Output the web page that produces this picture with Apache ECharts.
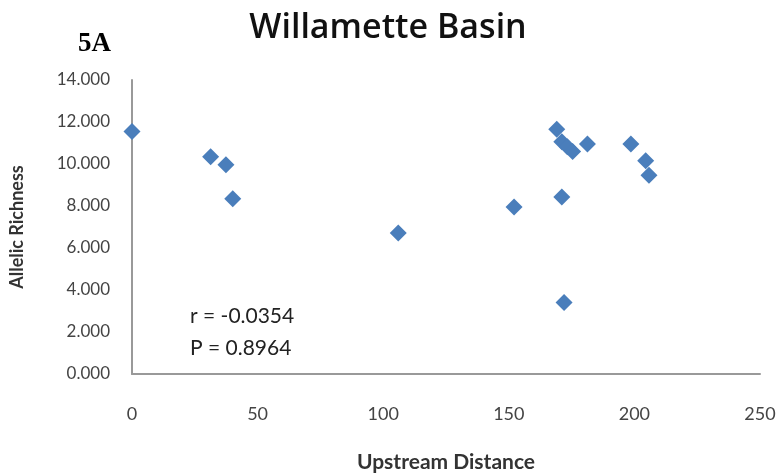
<!DOCTYPE html>
<html>
<head>
<meta charset="utf-8">
<script src="https://cdn.jsdelivr.net/npm/echarts@6/dist/echarts.min.js"></script>
<style>
html,body{margin:0;padding:0;background:#fff;}
#chart{width:776px;height:475px;}
</style>
</head>
<body>
<div id="chart"></div>
<script>
// Upstream distance (x) and allelic richness (y)
var upstreamDistance = [0, 31.3, 37.4, 40.1, 106.0, 152.1, 169.1, 171.1, 173.3, 175.4, 181.3, 198.6, 204.5, 205.8, 171.1, 172.0];
var allelicRichness  = [11.55, 10.35, 9.97, 8.35, 6.72, 7.95, 11.65, 11.06, 10.82, 10.6, 10.95, 10.95, 10.15, 9.47, 8.43, 3.4];
var xTicks = [0, 50, 100, 150, 200, 250];
var yTicks = [0, 2, 4, 6, 8, 10, 12, 14];
var titleText = 'Willamette Basin';
var panelLabel = '5A';
var statsLines = ['r = -0.0354', 'P = 0.8964'];

var points = upstreamDistance.map(function (x, i) { return [x, allelicRichness[i]]; });
var fontFam = 'Lato, "Open Sans", sans-serif';

var chart = echarts.init(document.getElementById('chart'), null, {renderer: 'canvas'});
chart.setOption({
  animation: false,
  backgroundColor: '#ffffff',
  title: {
    text: titleText,
    left: 'center',
    top: 6,
    textStyle: {fontFamily: '"Open Sans", sans-serif', fontSize: 34, fontWeight: 600, color: '#111'}
  },
  graphic: [
    {type: 'text', left: 78, top: 31, style: {text: panelLabel, font: 'bold 27px "Liberation Serif", serif', fill: '#000'}},
    {type: 'text', left: 190, top: 306, style: {text: statsLines[0], font: '21px ' + fontFam, fill: '#222'}},
    {type: 'text', left: 190, top: 338, style: {text: statsLines[1], font: '21px ' + fontFam, fill: '#222'}}
  ],
  grid: {left: 132, right: 16, top: 80, bottom: 101, containLabel: false, outerBoundsMode: 'none'},
  xAxis: {
    type: 'value',
    min: xTicks[0], max: xTicks[xTicks.length - 1], interval: 50,
    name: 'Upstream Distance',
    nameLocation: 'middle',
    nameGap: 78,
    nameTextStyle: {fontFamily: fontFam, fontSize: 21, fontWeight: 'bold', color: '#333'},
    axisLine: {show: true, lineStyle: {color: '#999999', width: 2}},
    axisTick: {show: false},
    splitLine: {show: false},
    axisLabel: {fontFamily: fontFam, fontSize: 18, color: '#444', margin: 31}
  },
  yAxis: {
    type: 'value',
    min: yTicks[0], max: yTicks[yTicks.length - 1], interval: 2,
    name: 'Allelic Richness',
    nameLocation: 'middle',
    nameGap: 106,
    nameRotate: 90,
    nameTextStyle: {fontFamily: fontFam, fontSize: 18, fontWeight: 'bold', color: '#333'},
    axisLine: {show: true, lineStyle: {color: '#999999', width: 2}},
    axisTick: {show: false},
    splitLine: {show: false},
    axisLabel: {fontFamily: fontFam, fontSize: 17, color: '#444', margin: 22,
      formatter: function (v) { return v.toFixed(3); }}
  },
  series: [{
    type: 'scatter',
    data: points,
    symbol: 'diamond',
    symbolSize: [17, 17],
    itemStyle: {color: '#4a7ebb', opacity: 1}
  }]
});
</script>
</body>
</html>
